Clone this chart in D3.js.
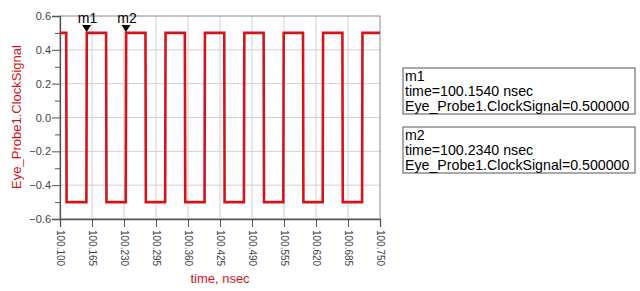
<!DOCTYPE html>
<html>
<head>
<meta charset="utf-8">
<script src="https://d3js.org/d3.v7.min.js"></script>
<style>
  body { margin: 0; background: #fff; }
  svg { font-family: "Liberation Sans", Arial, sans-serif; }
</style>
</head>
<body>
<svg width="640" height="291"></svg>
<script>
// values
const xTicks = [100.100, 100.165, 100.230, 100.295, 100.360, 100.425, 100.490, 100.555, 100.620, 100.685, 100.750];
const yTicks = [-0.6, -0.4, -0.2, 0.0, 0.2, 0.4, 0.6];
const yMinor = [-0.5, -0.3, -0.1, 0.1, 0.3, 0.5];
const riseTimes = [100.154, 100.234, 100.314, 100.394, 100.474, 100.554, 100.634, 100.714];
const fallTimes = [100.113, 100.194, 100.274, 100.354, 100.434, 100.514, 100.594, 100.674];
const highLevel = 0.5, lowLevel = -0.5;
const markers = [
  { name: "m1", time: 100.1540, value: 0.500000 },
  { name: "m2", time: 100.2340, value: 0.500000 }
];

// build the waveform from the edges
const edges = riseTimes.map(t => ({ t, up: true }))
  .concat(fallTimes.map(t => ({ t, up: false })))
  .sort((a, b) => a.t - b.t);
const edgeW = 0.0008;
let wave = [{ t: 100.100, v: highLevel }];
edges.forEach(e => {
  wave.push({ t: e.t - edgeW / 2, v: e.up ? lowLevel : highLevel });
  wave.push({ t: e.t + edgeW / 2, v: e.up ? highLevel : lowLevel });
});
wave.push({ t: 100.750, v: highLevel });

const svg = d3.select("svg");
const pLeft = 60, pRight = 380, pTop = 16, pBottom = 219;
const red = "#d4141b";

const x = d3.scaleLinear().domain([100.100, 100.750]).range([pLeft, pRight]);
const y = d3.scaleLinear().domain([-0.6, 0.6]).range([pBottom, pTop]);

// grid
svg.append("g").selectAll("line").data(xTicks.slice(1, -1)).join("line")
  .attr("x1", d => x(d)).attr("x2", d => x(d))
  .attr("y1", pTop).attr("y2", pBottom)
  .attr("stroke", "#d0d0d0").attr("stroke-width", 1);
svg.append("g").selectAll("line").data(yTicks.slice(1, -1)).join("line")
  .attr("x1", pLeft).attr("x2", pRight)
  .attr("y1", d => y(d)).attr("y2", d => y(d))
  .attr("stroke", "#d0d0d0").attr("stroke-width", 1);

// frame
svg.append("rect")
  .attr("x", pLeft).attr("y", pTop)
  .attr("width", pRight - pLeft).attr("height", pBottom - pTop)
  .attr("fill", "none").attr("stroke", "#8a8a8a").attr("stroke-width", 1);

// axes
const xAxis = svg.append("g")
  .attr("transform", `translate(0,${pBottom})`)
  .call(d3.axisBottom(x).tickValues(xTicks).tickSize(8).tickFormat(d3.format(".3f")));
xAxis.selectAll("text")
  .attr("transform", "rotate(90)")
  .attr("x", 11).attr("y", 0).attr("dy", "0.35em")
  .style("text-anchor", "start")
  .attr("font-size", 10).attr("fill", "#444");

const yAxis = svg.append("g")
  .attr("transform", `translate(${pLeft},0)`)
  .call(d3.axisLeft(y).tickValues(yTicks).tickSize(8).tickFormat(d3.format(".1f")));
yAxis.selectAll("text").attr("font-size", 11).attr("fill", "#444").attr("x", -9);
svg.append("g")
  .attr("transform", `translate(${pLeft},0)`)
  .call(d3.axisLeft(y).tickValues(yMinor).tickSize(5).tickFormat(""))
  .select(".domain").remove();
svg.selectAll(".domain").attr("stroke", "#555").attr("stroke-width", 1.3);
svg.selectAll(".tick line").attr("stroke", "#555");

// waveform
const line = d3.line().x(d => x(d.t)).y(d => y(d.v));
svg.append("path").datum(wave)
  .attr("d", line)
  .attr("fill", "none").attr("stroke", red).attr("stroke-width", 2.6)
  .attr("stroke-linejoin", "miter");

// markers
const mk = svg.append("g").selectAll("g").data(markers).join("g")
  .attr("transform", d => `translate(${x(d.time)},${y(d.value)})`);
mk.append("path").attr("d", "M-4.5,-8 L4.5,-8 L0,-1 Z").attr("fill", "#000");
mk.append("text").text(d => d.name)
  .attr("x", 1).attr("y", -10).attr("text-anchor", "middle")
  .attr("font-size", 14).attr("fill", "#000");

// axis titles
svg.append("text").text("time, nsec")
  .attr("x", 220).attr("y", 283).attr("text-anchor", "middle")
  .attr("font-size", 13).attr("fill", red);
svg.append("text").text("Eye_Probe1.ClockSignal")
  .attr("transform", "translate(21,117) rotate(-90)")
  .attr("text-anchor", "middle")
  .attr("font-size", 13).attr("fill", red);

// marker readouts
const boxes = svg.append("g").selectAll("g").data(markers).join("g")
  .attr("transform", (d, i) => `translate(403,${68 + i * 59})`);
boxes.append("rect")
  .attr("width", 232).attr("height", 46)
  .attr("fill", "#fff").attr("stroke", "#555").attr("stroke-width", 1);
const rows = d => [d.name, `time=${d.time.toFixed(4)} nsec`, `Eye_Probe1.ClockSignal=${d.value.toFixed(6)}`];
boxes.selectAll("text").data(d => rows(d)).join("text")
  .text(d => d)
  .attr("x", 2).attr("y", (d, i) => 12.5 + i * 15)
  .attr("font-size", 14.2).attr("fill", "#000");
</script>
</body>
</html>
